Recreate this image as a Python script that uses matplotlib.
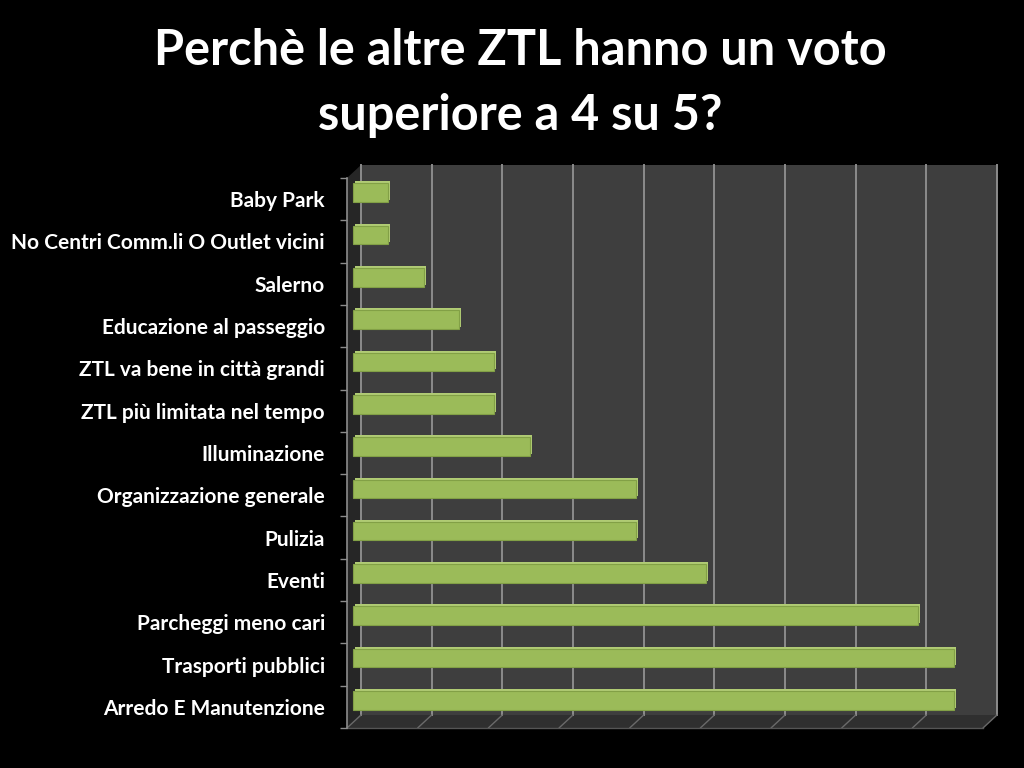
import matplotlib
matplotlib.use("Agg")
from matplotlib import pyplot as plt
from matplotlib.patches import Polygon
from matplotlib.transforms import offset_copy

# ===== data =====
categories = [
    "Baby Park",
    "No Centri Comm.li O Outlet vicini",
    "Salerno",
    "Educazione al passeggio",
    "ZTL va bene in città grandi",
    "ZTL più limitata nel tempo",
    "Illuminazione",
    "Organizzazione generale",
    "Pulizia",
    "Eventi",
    "Parcheggi meno cari",
    "Trasporti pubblici",
    "Arredo E Manutenzione",
]
values = [1, 1, 2, 3, 4, 4, 5, 8, 8, 10, 16, 17, 17]
x_max = 18
x_step = 2

title = "Perchè le altre ZTL hanno un voto\nsuperiore a 4 su 5?"

# ===== layout (pixels, image coords with y downward) =====
W, H = 1024, 768
L, R, T, B = 347, 983, 178, 728   # front plane of the 3d box
DX, DY = 14, 13                    # depth of the box

plt.rcParams['font.family'] = ['Lato', 'DejaVu Sans']
fig = plt.figure(figsize=(W / 100, H / 100), dpi=100, facecolor='black')

# background axes for the box walls
bg = fig.add_axes([0, 0, 1, 1])
bg.set_xlim(0, W)
bg.set_ylim(H, 0)
bg.axis('off')
bg.set_facecolor('black')

back = [(L + DX, T - DY), (R + DX, T - DY), (R + DX, B - DY), (L + DX, B - DY)]
floor = [(L, B), (R, B), (R + DX, B - DY), (L + DX, B - DY)]
left = [(L, T), (L + DX, T - DY), (L + DX, B - DY), (L, B)]
bg.add_patch(Polygon(back, closed=True, facecolor='#3e3e3e', edgecolor='none'))
bg.add_patch(Polygon(floor, closed=True, facecolor='#2f2f2f', edgecolor='none'))
bg.add_patch(Polygon(left, closed=True, facecolor='#262626', edgecolor='none'))

# main axes on the front plane
ax = fig.add_axes([L / W, 1 - B / H, (R - L) / W, (B - T) / H])
ax.set_facecolor('none')
ax.set_xlim(0, x_max)
ax.set_ylim(len(categories) - 0.5, -0.5)

ypos = list(range(len(categories)))

# gridlines on the back wall and on the floor
back_tr = offset_copy(ax.transData, fig=fig, x=DX, y=DY, units='dots')
for gx in range(0, x_max + 1, x_step):
    ax.plot([gx, gx], [-0.5, len(categories) - 0.5], color='#8c8c8c', lw=1.4,
            transform=back_tr, clip_on=False, zorder=1)
    ax.annotate('', xy=(gx, len(categories) - 0.5), xycoords=back_tr,
                xytext=(gx, len(categories) - 0.5), textcoords=ax.transData,
                arrowprops=dict(arrowstyle='-', color='#6a6a6a', lw=1.0,
                                shrinkA=0, shrinkB=0), zorder=1)
ax.plot([0, x_max], [len(categories) - 0.5] * 2, color='#555555', lw=1.0,
        clip_on=False, zorder=1)

# bars, placed halfway in depth, with a lighter top/side face behind
bar_h = 0.44
mid_tr = offset_copy(ax.transData, fig=fig, x=DX / 2 - 1, y=DY / 2, units='dots')
side_tr = offset_copy(ax.transData, fig=fig, x=DX / 2 + 1, y=DY / 2 + 2, units='dots')
ax.barh(ypos, values, height=bar_h, color='#b0cb74', edgecolor='none',
        transform=side_tr, zorder=2, clip_on=False)
ax.barh(ypos, values, height=bar_h, color='#9bbb59', edgecolor='#82a046',
        linewidth=0.8, transform=mid_tr, zorder=3, clip_on=False)

# axes styling
for s in ['top', 'right', 'bottom']:
    ax.spines[s].set_visible(False)
ax.spines['left'].set_color('#8c8c8c')
ax.spines['left'].set_linewidth(1.2)
ax.set_xticks([])
ax.set_yticks(ypos)
ax.set_yticklabels(categories, color='white', fontsize=15, fontweight='bold')
ax.set_yticks([y - 0.5 for y in ypos] + [len(categories) - 0.5], minor=True)
ax.tick_params(axis='y', which='major', length=0, pad=16)
ax.tick_params(axis='y', which='minor', length=5, color='#8c8c8c', width=1)

fig.text(0.508, 1 - 83 / H, title, ha='center', va='center', color='white',
         fontsize=35, fontweight='bold', linespacing=1.55)

fig.savefig('out.png', dpi=100, facecolor='black')
